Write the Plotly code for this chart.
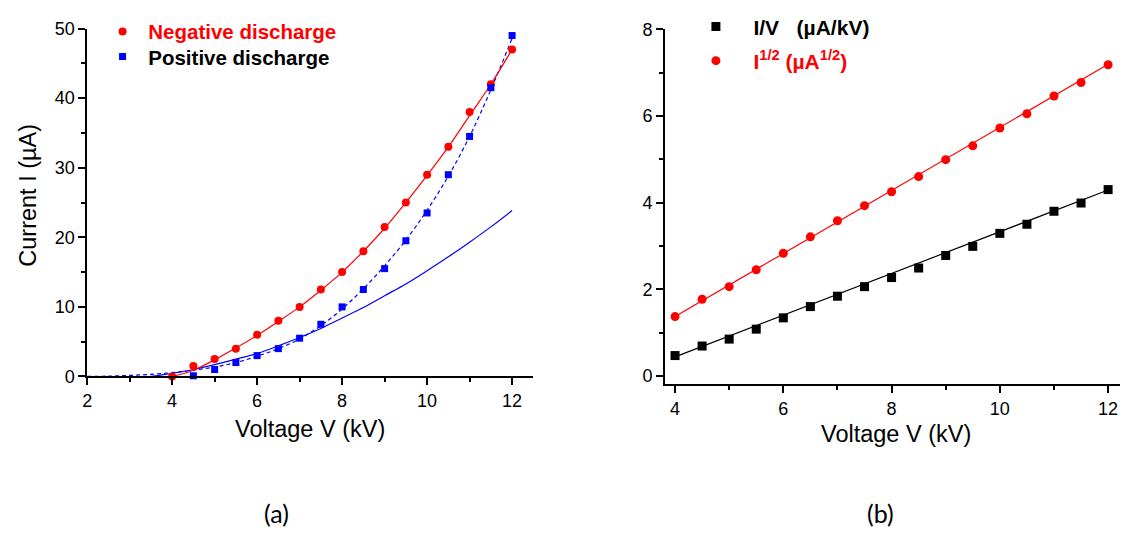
import plotly.graph_objects as go

# ---------------- data: panel (a) ----------------
neg_v = [4, 4.5, 5, 5.5, 6, 6.5, 7, 7.5, 8, 8.5, 9, 9.5, 10, 10.5, 11, 11.5, 12]
neg_i = [0.0, 1.5, 2.5, 4.0, 6.0, 8.0, 10.0, 12.5, 15.0, 18.0, 21.5, 25.0, 29.0, 33.0, 38.0, 42.0, 47.0]

pos_v = [4.5, 5, 5.5, 6, 6.5, 7, 7.5, 8, 8.5, 9, 9.5, 10, 10.5, 11, 11.5, 12]
pos_i = [0.1, 1.0, 2.0, 3.0, 4.0, 5.5, 7.5, 10.0, 12.5, 15.5, 19.5, 23.5, 29.0, 34.5, 41.5, 49.0]

# fitted curves
neg_fit_v = [4, 4.5, 5, 5.5, 6, 6.5, 7, 7.5, 8, 8.5, 9, 9.5, 10, 10.5, 11, 11.5, 12]
neg_fit_i = [0.0, 0.9, 2.4, 4.1, 5.9, 7.9, 10.0, 12.4, 15.0, 18.0, 21.3, 25.0, 28.9, 33.0, 37.5, 42.0, 47.0]

pos_dash_v = [2, 2.5, 3, 3.5, 4, 4.5, 5, 5.5, 6, 6.5, 7, 7.5, 8, 8.5, 9, 9.5, 10, 10.5, 11, 11.5, 12]
pos_dash_i = [0.0, 0.05, 0.15, 0.3, 0.55, 0.9, 1.35, 2.0, 2.9, 4.0, 5.4, 7.3, 9.7, 12.6, 15.9, 19.6, 23.9, 28.8, 34.5, 41.2, 48.6]

pos_solid_v = [3.5, 4, 4.5, 5, 5.5, 6, 6.5, 7, 7.5, 8, 8.5, 9, 9.5, 10, 10.5, 11, 11.5, 12]
pos_solid_i = [0.0, 0.45, 1.0, 1.7, 2.5, 3.3, 4.4, 5.6, 6.9, 8.4, 9.9, 11.6, 13.3, 15.2, 17.2, 19.3, 21.5, 23.85]

# ---------------- data: panel (b) ----------------
b_v = [4, 4.5, 5, 5.5, 6, 6.5, 7, 7.5, 8, 8.5, 9, 9.5, 10, 10.5, 11, 11.5, 12]
i_over_v = [0.47, 0.69, 0.85, 1.08, 1.34, 1.60, 1.84, 2.06, 2.27, 2.49, 2.78, 2.99, 3.29, 3.50, 3.80, 3.99, 4.30]
sqrt_i = [1.37, 1.77, 2.06, 2.45, 2.83, 3.21, 3.58, 3.93, 4.25, 4.60, 4.99, 5.31, 5.72, 6.05, 6.46, 6.77, 7.18]

fit_v = [4, 12]
i_over_v_fit = [0.44, 4.29]
sqrt_i_fit = [1.37, 7.19]

# tick settings
a_xticks = [2, 4, 6, 8, 10, 12]
a_yticks = [0, 10, 20, 30, 40, 50]
b_xticks = [4, 6, 8, 10, 12]
b_yticks = [0, 2, 4, 6, 8]

RED = "#ff0000"
BLUE = "#0000ff"
FONT = "Liberation Sans"

fig = go.Figure()

# panel (a) curves
fig.add_trace(go.Scatter(x=pos_solid_v, y=pos_solid_i, mode="lines", line=dict(color=BLUE, width=1.2, shape="spline"),
                         showlegend=False, xaxis="x", yaxis="y", hoverinfo="skip"))
fig.add_trace(go.Scatter(x=pos_dash_v, y=pos_dash_i, mode="lines", line=dict(color=BLUE, width=1.2, dash="4px,3px", shape="spline"),
                         showlegend=False, xaxis="x", yaxis="y", hoverinfo="skip"))
fig.add_trace(go.Scatter(x=neg_fit_v, y=neg_fit_i, mode="lines", line=dict(color=RED, width=1.2, shape="spline"),
                         showlegend=False, xaxis="x", yaxis="y", hoverinfo="skip"))
fig.add_trace(go.Scatter(x=neg_v, y=neg_i, mode="markers", marker=dict(symbol="circle", size=8, color=RED),
                         name='&nbsp;<span style="color:#ff0000"><b>Negative discharge</b></span>',
                         legend="legend", xaxis="x", yaxis="y", cliponaxis=False))
fig.add_trace(go.Scatter(x=pos_v, y=pos_i, mode="markers", marker=dict(symbol="square", size=7, color=BLUE),
                         name='&nbsp;<b>Positive discharge</b>',
                         legend="legend3", xaxis="x", yaxis="y", cliponaxis=False))

# panel (b)
fig.add_trace(go.Scatter(x=fit_v, y=i_over_v_fit, mode="lines", line=dict(color="black", width=1.2),
                         showlegend=False, xaxis="x2", yaxis="y2", hoverinfo="skip"))
fig.add_trace(go.Scatter(x=fit_v, y=sqrt_i_fit, mode="lines", line=dict(color=RED, width=1.2),
                         showlegend=False, xaxis="x2", yaxis="y2", hoverinfo="skip"))
fig.add_trace(go.Scatter(x=b_v, y=i_over_v, mode="markers", marker=dict(symbol="square", size=9, color="black"),
                         name='&nbsp;&nbsp;&nbsp;<b>I/V&nbsp;&nbsp;&nbsp;(µA/kV)</b>', legend="legend2",
                         xaxis="x2", yaxis="y2", cliponaxis=False))
fig.add_trace(go.Scatter(x=b_v, y=sqrt_i, mode="markers", marker=dict(symbol="circle", size=9, color=RED),
                         name='&nbsp;&nbsp;&nbsp;<span style="color:#ff0000"><b>I<sup>1/2</sup> (µA<sup>1/2</sup>)</b></span>',
                         legend="legend4", xaxis="x2", yaxis="y2", cliponaxis=False))

W, H = 1124, 535

def px_x(p):
    return p / W

def px_y(p):
    return (H - p) / H

axis_common = dict(
    showline=True, linecolor="black", linewidth=1.5, mirror=False,
    ticks="outside", ticklen=7, tickwidth=1.5, tickcolor="black",
    showgrid=False, zeroline=False,
    tickfont=dict(family=FONT, size=18, color="black"),
    fixedrange=True,
)

def leg(xp, yp, size):
    return dict(x=px_x(xp), y=px_y(yp), xanchor="left", yanchor="middle", bgcolor="rgba(0,0,0,0)",
                font=dict(family=FONT, size=size, color="black"), borderwidth=0, itemclick=False,
                itemdoubleclick=False)

TITLE_SIZE = 23.5

fig.update_layout(
    width=W, height=H,
    margin=dict(l=0, r=0, t=0, b=0),
    paper_bgcolor="white", plot_bgcolor="white",
    font=dict(family=FONT, color="black"),
    xaxis=dict(domain=[px_x(82.5), px_x(530.7)], range=[2, 12.5], tickvals=a_xticks, anchor="y",
               minor=dict(ticks="outside", ticklen=4, tickwidth=1.5, tickcolor="black", dtick=1, tick0=2, showgrid=False),
               **axis_common),
    yaxis=dict(domain=[px_y(380.7), px_y(19.3)], range=[0, 50], tickvals=a_yticks, anchor="x",
               minor=dict(ticks="outside", ticklen=4, tickwidth=1.5, tickcolor="black", dtick=5, tick0=0, showgrid=False),
               **axis_common),
    xaxis2=dict(domain=[px_x(662.7), px_x(1120)], range=[3.81, 12.22], tickvals=b_xticks, anchor="y2",
                minor=dict(ticks="outside", ticklen=4, tickwidth=1.5, tickcolor="black", dtick=1, tick0=4, showgrid=False),
                **axis_common),
    yaxis2=dict(domain=[px_y(388.7), px_y(20)], range=[-0.19, 8], tickvals=b_yticks, anchor="x2",
                minor=dict(ticks="outside", ticklen=4, tickwidth=1.5, tickcolor="black", dtick=1, tick0=0, showgrid=False),
                **axis_common),
    legend=leg(98, 22.5, 20.5),
    legend3=leg(98, 48.5, 20.5),
    legend2=leg(694, 17.5, 21),
    legend4=leg(694, 53, 21),
    showlegend=True,
    annotations=[
        dict(text="Voltage V (kV)", x=px_x(306.6), y=px_y(435), xref="paper", yref="paper",
             xanchor="center", yanchor="middle", showarrow=False, font=dict(family=FONT, size=TITLE_SIZE, color="black")),
        dict(text="Current I (µA)", x=px_x(23), y=px_y(192), xref="paper", yref="paper", textangle=-90,
             xanchor="center", yanchor="middle", showarrow=False, font=dict(family=FONT, size=TITLE_SIZE, color="black")),
        dict(text="Voltage V (kV)", x=px_x(895), y=px_y(440), xref="paper", yref="paper",
             xanchor="center", yanchor="middle", showarrow=False, font=dict(family=FONT, size=TITLE_SIZE, color="black")),
        dict(text="(a)", x=px_x(273), y=px_y(523), xref="paper", yref="paper",
             xanchor="center", yanchor="middle", showarrow=False, font=dict(family="Lato", size=25, color="black")),
        dict(text="(b)", x=px_x(879), y=px_y(523), xref="paper", yref="paper",
             xanchor="center", yanchor="middle", showarrow=False, font=dict(family="Lato", size=25, color="black")),
    ],
)

fig.write_html("out.html")
